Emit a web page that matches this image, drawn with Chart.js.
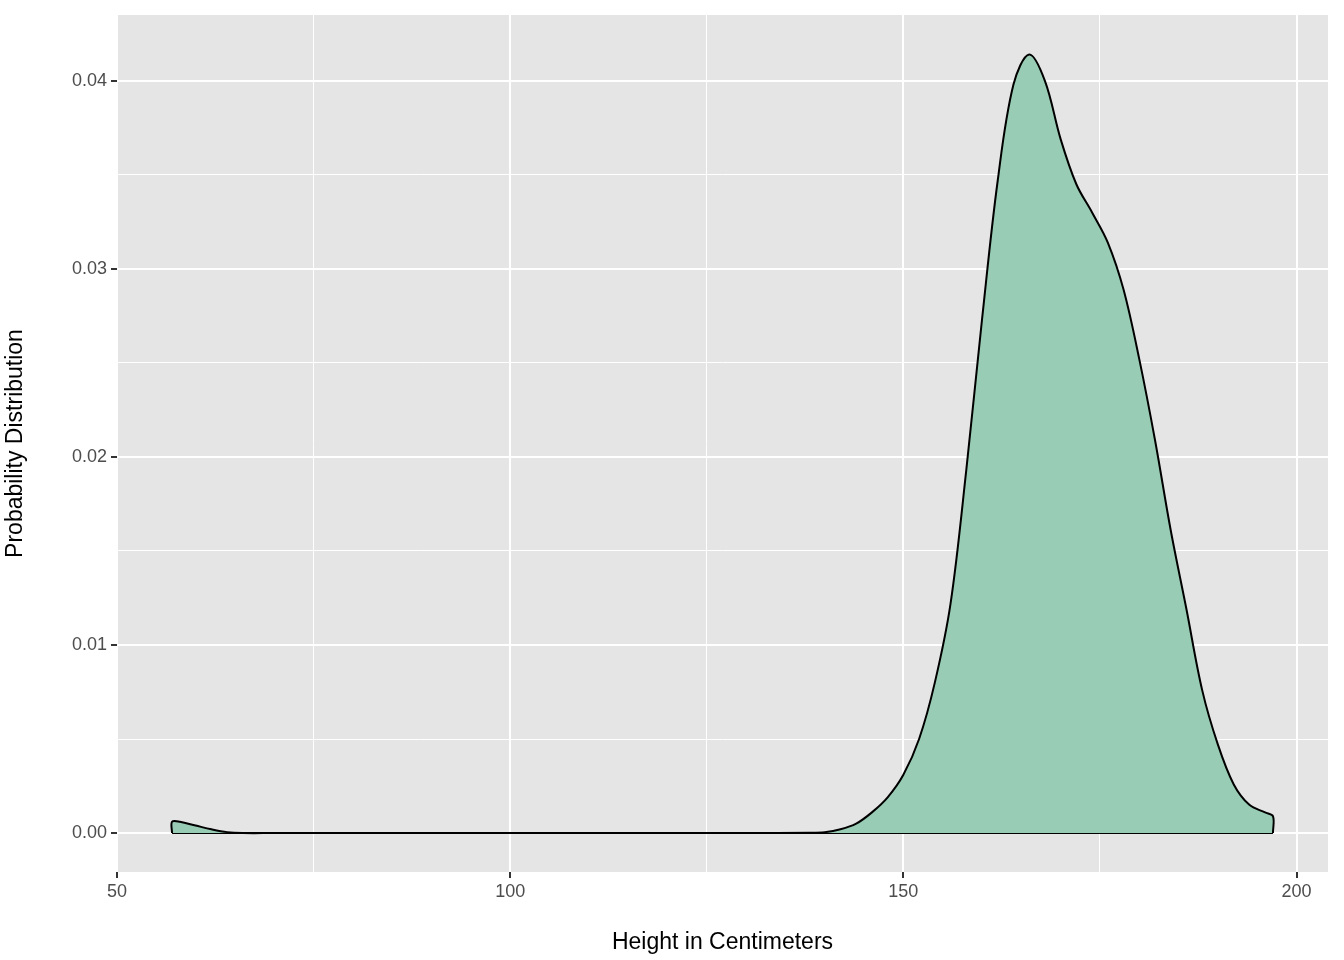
<!DOCTYPE html>
<html><head><meta charset="utf-8">
<script src="https://cdn.jsdelivr.net/npm/chart.js@4"></script>
<style>html,body{margin:0;padding:0;background:#fff}#c{display:block}</style>
</head><body>
<div style="width:1344px;height:960px"><canvas id="c"></canvas></div>
<script>
const heights = [57,57,58,60,62,64,66,70,100,130,138,140,142,144,146,148,150,152,154,156,158,160,162,164,166,168,170,172,174,176,178,180,182,184,186,188,190,192,194,196,197,197];
const density = [0,0.0006,0.0006,0.0004,0.0002,0.00005,0,0,0,0,0.00002,0.00005,0.0002,0.0005,0.0011,0.0019,0.0031,0.0050,0.0080,0.0122,0.0193,0.0273,0.0347,0.0398,0.0414,0.0400,0.0369,0.0345,0.0330,0.0314,0.0289,0.0252,0.0209,0.0161,0.0119,0.0076,0.0047,0.0026,0.0015,0.0011,0.0009,0];
const baseline = [{x:57,y:0},{x:197,y:0}];
const xMajor = [50,100,150,200];
const yMajor = [0,0.01,0.02,0.03,0.04];
const pts = heights.map((h,i)=>({x:h,y:density[i]}));
const panel = {id:'panel',beforeDraw(c){const a=c.chartArea,x=c.ctx;x.save();x.fillStyle='#e5e5e5';x.fillRect(a.left,a.top,a.right-a.left,a.bottom-a.top);x.restore();}};
const isMaj=(v,arr)=>arr.some(m=>Math.abs(m-v)<1e-9);
new Chart(document.getElementById('c'),{
 type:'scatter',
 data:{datasets:[
  {data:pts,showLine:true,fill:'origin',backgroundColor:'#99ccb4',borderColor:'#000',borderWidth:2,pointRadius:0,tension:0.35},
  {data:baseline,showLine:true,fill:false,borderColor:'#000',borderWidth:2,pointRadius:0}
 ]},
 options:{responsive:true,maintainAspectRatio:false,animation:false,
  layout:{padding:{left:0,top:15,right:16,bottom:0}},
  plugins:{legend:{display:false},tooltip:{enabled:false}},
  scales:{
   x:{type:'linear',min:50,max:204,afterFit(s){s.height=88;},
    afterBuildTicks(s){s.ticks=[50,75,100,125,150,175,200].map(v=>({value:v}));},
    ticks:{autoSkip:false,maxRotation:0,color:'#4d4d4d',font:{family:'Liberation Sans',size:18},padding:3,callback:v=>isMaj(v,xMajor)?v:''},
    grid:{color:'#fff',lineWidth:c=>isMaj(c.tick.value,xMajor)?2:1,tickColor:c=>isMaj(c.tick.value,xMajor)?'#333':'rgba(0,0,0,0)',tickLength:6,drawTicks:true},
    border:{display:false},
    title:{display:true,text:'Height in Centimeters',color:'#000',font:{family:'Liberation Sans',size:23},padding:{top:0}}},
   y:{min:-0.00207,max:0.0435,afterFit(s){s.width=117;},
    afterBuildTicks(s){s.ticks=[0,0.005,0.01,0.015,0.02,0.025,0.03,0.035,0.04].map(v=>({value:v}));},
    ticks:{autoSkip:false,color:'#4d4d4d',font:{family:'Liberation Sans',size:18},padding:4,callback:v=>isMaj(v,yMajor)?v.toFixed(2):''},
    grid:{color:'#fff',lineWidth:c=>isMaj(c.tick.value,yMajor)?2:1,tickColor:c=>isMaj(c.tick.value,yMajor)?'#333':'rgba(0,0,0,0)',tickLength:6},
    border:{display:false},
    title:{display:true,text:'Probability Distribution',color:'#000',font:{family:'Liberation Sans',size:23},padding:{top:2,bottom:4}}}
  }},
 plugins:[panel]
});
</script></body></html>
